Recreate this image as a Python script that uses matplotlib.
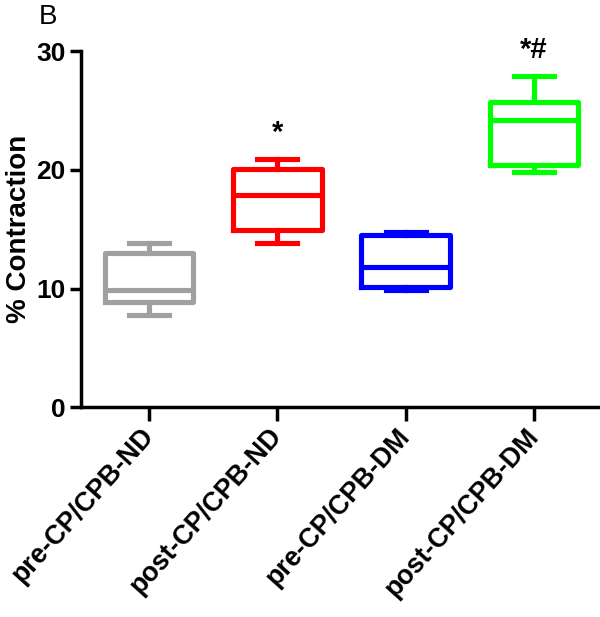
import matplotlib.pyplot as plt
import matplotlib.transforms as mtransforms

plt.rcParams['font.family'] = ['Liberation Sans', 'DejaVu Sans']

groups = ["pre-CP/CPB-ND", "post-CP/CPB-ND", "pre-CP/CPB-DM", "post-CP/CPB-DM"]
colors = ["#a0a0a0", "#ff0000", "#0000ff", "#00ff00"]
mins = [7.8, 13.8, 9.9, 19.8]
q1s = [8.9, 14.9, 10.1, 20.4]
medians = [9.9, 17.9, 11.8, 24.2]
q3s = [13.0, 20.1, 14.5, 25.7]
maxs = [13.8, 20.9, 14.8, 27.9]
marks = ["", "*", "", "*#"]

fig = plt.figure(figsize=(6, 6.17), dpi=100)
ax = fig.add_axes([0.135, 0.34, 0.862, 0.577])

for i in range(len(groups)):
    st = {"whislo": mins[i], "q1": q1s[i], "med": medians[i], "q3": q3s[i], "whishi": maxs[i], "fliers": []}
    c = colors[i]
    ax.bxp([st], positions=[i], widths=0.69, showfliers=False,
           boxprops=dict(color=c, linewidth=3.7),
           whiskerprops=dict(color=c, linewidth=3.7),
           capprops=dict(color=c, linewidth=3.7),
           medianprops=dict(color=c, linewidth=3.7),
           capwidths=0.31)
    if marks[i]:
        ax.text(i, maxs[i] + 1.0, marks[i], ha="center", va="bottom", fontsize=21, fontweight="bold")

ax.set_xlim(-0.53, 3.5)
ax.set_ylim(0, 30)
ax.set_yticks([0, 10, 20, 30])
ax.set_xticks(range(len(groups)))
ax.set_xticklabels(groups, rotation=48, ha="right", va="center", rotation_mode="anchor", fontsize=19.3, fontweight="bold")
shift = mtransforms.ScaledTranslation(4 / 100, 0, fig.dpi_scale_trans)
for lab in ax.get_xticklabels():
    lab.set_transform(lab.get_transform() + shift)
for lab in ax.get_yticklabels():
    lab.set_fontsize(19)
    lab.set_fontweight("bold")
ax.tick_params(axis="y", length=8, width=2.5, pad=3)
ax.tick_params(axis="x", length=10, width=2.5, pad=8)
ax.spines["top"].set_visible(False)
ax.spines["right"].set_visible(False)
ax.spines["left"].set_linewidth(2.5)
ax.spines["bottom"].set_linewidth(2.5)
ax.spines["left"].set_bounds(0, 30)
ax.set_ylabel("% Contraction", fontsize=20, fontweight="bold", labelpad=3)
fig.text(0.065, 0.972, "B", fontsize=20, va="center")

fig.savefig("out.png", dpi=100)
